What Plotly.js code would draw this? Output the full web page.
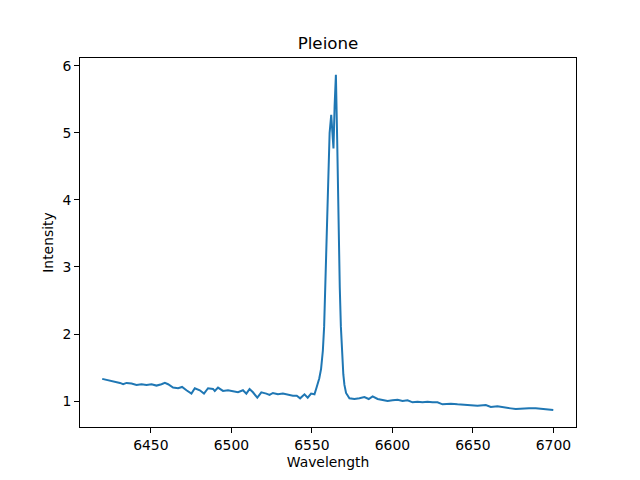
<!DOCTYPE html>
<html>
<head>
<meta charset="utf-8">
<script src="https://cdn.plot.ly/plotly-3.0.1.min.js"></script>
<style>html,body{margin:0;padding:0;background:#fff}#chart{width:640px;height:480px}</style>
</head>
<body>
<div id="chart"></div>
<script>
var wavelength = [
6419.8,6423.5,6427.7,6430.8,6432.8,6434.9,6438.0,6441.1,6444.2,6447.3,
6450.4,6453.5,6456.6,6458.7,6460.7,6463.8,6466.9,6469.4,6472.1,6475.2,
6477.3,6480.4,6483.0,6485.5,6488.6,6489.7,6491.7,6494.8,6497.9,6501.0,
6504.1,6507.2,6509.3,6511.3,6513.4,6516.1,6518.6,6521.7,6523.7,6525.8,
6528.9,6532.0,6535.1,6538.2,6540.6,6542.7,6545.4,6547.4,6549.5,6551.6,
6553.0,6554.6,6555.7,6556.8,6557.6,6558.5,6559.3,6560.2,6561.0,6562.0,
6562.7,6563.4,6564.1,6564.9,6565.7,6566.5,6567.3,6568.0,6568.8,6569.5,
6570.2,6571.2,6573.3,6576.4,6579.5,6582.6,6585.3,6587.7,6590.8,6593.9,
6597.0,6600.1,6603.2,6606.3,6609.4,6612.5,6615.6,6618.7,6621.8,6624.9,
6628.0,6631.1,6634.2,6636.3,6640.4,6644.5,6648.7,6652.8,6658.0,6661.1,
6665.2,6669.3,6673.5,6676.6,6680.7,6684.8,6689.0,6693.1,6696.2,6699.9
];
var intensity = [
1.33,1.31,1.29,1.27,1.25,1.27,1.26,1.24,1.25,1.24,
1.25,1.23,1.25,1.27,1.25,1.20,1.19,1.21,1.16,1.11,
1.19,1.16,1.11,1.19,1.18,1.15,1.20,1.15,1.16,1.15,
1.13,1.16,1.11,1.18,1.13,1.05,1.13,1.11,1.09,1.12,
1.10,1.11,1.09,1.08,1.08,1.04,1.10,1.05,1.11,1.10,
1.21,1.34,1.48,1.75,2.11,2.90,3.60,4.40,5.00,5.27,
5.00,4.77,5.40,5.87,4.90,3.60,2.70,2.11,1.61,1.40,
1.24,1.12,1.04,1.03,1.04,1.06,1.03,1.07,1.03,1.02,
1.00,1.01,1.02,1.00,1.01,0.98,0.99,0.98,0.99,0.98,
0.98,0.95,0.96,0.96,0.95,0.94,0.93,0.93,0.94,0.91,
0.92,0.91,0.89,0.88,0.89,0.89,0.89,0.88,0.88,0.865
];
var titleText = "Pleione";
var xLabel = "Wavelength";
var yLabel = "Intensity";

var trace = {
  x: wavelength, y: intensity, type: "scatter", mode: "lines",
  line: {color: "#1f77b4", width: 2}, hoverinfo: "skip"
};
var font = {family: "DejaVu Sans, sans-serif", size: 13.9, color: "#000"};
var axisCommon = {
  showline: true, linecolor: "#000", linewidth: 1, mirror: true,
  ticks: "outside", ticklen: 5, tickwidth: 1, tickcolor: "#000",
  showgrid: false, zeroline: false, tickfont: font
};
var layout = {
  width: 640, height: 480,
  margin: {l: 80, r: 64, t: 58, b: 53, pad: 0},
  paper_bgcolor: "#fff", plot_bgcolor: "#fff",
  font: font, showlegend: false,
  title: {text: titleText, font: {family: "DejaVu Sans, sans-serif", size: 16.7, color: "#000"},
          x: 0.5, xref: "paper", xanchor: "center", y: 0.897, yref: "container", yanchor: "bottom"},
  xaxis: Object.assign({}, axisCommon, {
    range: [6406, 6714], tickvals: [6450, 6500, 6550, 6600, 6650, 6700],
    title: {text: xLabel, font: font, standoff: 5}
  }),
  yaxis: Object.assign({}, axisCommon, {
    range: [0.612, 6.119], tickvals: [1, 2, 3, 4, 5, 6],
    title: {text: yLabel, font: font, standoff: 5}
  })
};
Plotly.newPlot("chart", [trace], layout, {staticPlot: true, displayModeBar: false});
</script>
</body>
</html>
